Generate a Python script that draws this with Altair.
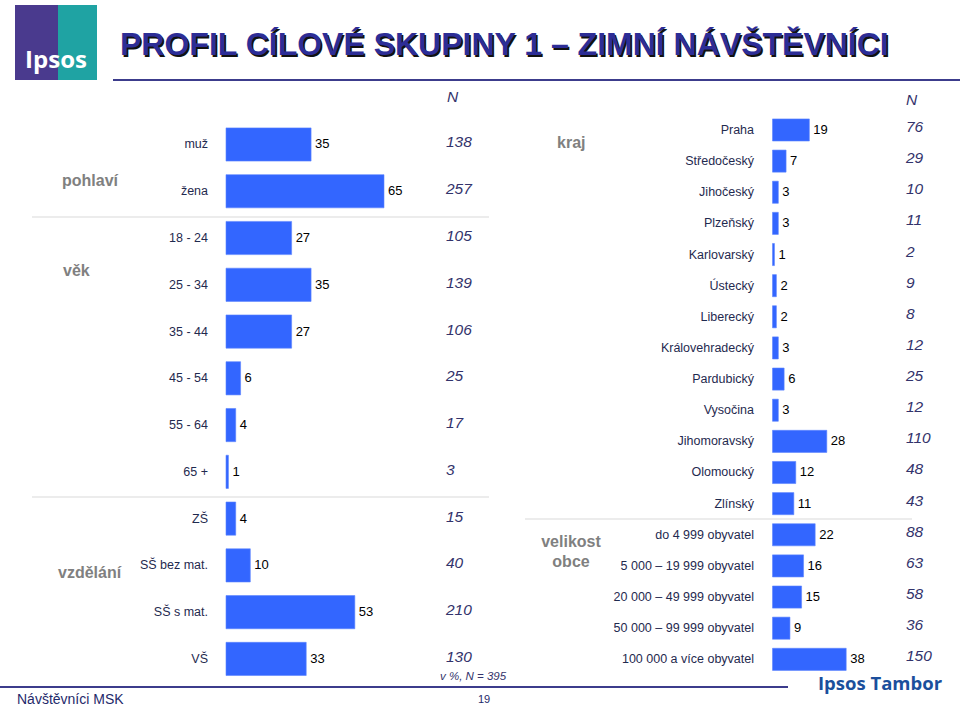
import altair as alt
import pandas as pd

# ---------------- data ----------------
left_cats = ["muž", "žena", "18 - 24", "25 - 34", "35 - 44", "45 - 54", "55 - 64",
             "65 +", "ZŠ", "SŠ bez mat.", "SŠ s mat.", "VŠ"]
left_vals = [35, 65, 27, 35, 27, 6, 4, 1, 4, 10, 53, 33]
left_n = [138, 257, 105, 139, 106, 25, 17, 3, 15, 40, 210, 130]

right_cats = ["Praha", "Středočeský", "Jihočeský", "Plzeňský", "Karlovarský", "Ústecký",
              "Liberecký", "Královehradecký", "Pardubický", "Vysočina", "Jihomoravský",
              "Olomoucký", "Zlínský", "do 4 999 obyvatel", "5 000 – 19 999 obyvatel",
              "20 000 – 49 999 obyvatel", "50 000 – 99 999 obyvatel", "100 000 a více obyvatel"]
right_vals = [19, 7, 3, 3, 1, 2, 2, 3, 6, 3, 28, 12, 11, 22, 16, 15, 9, 38]
right_n = [76, 29, 10, 11, 2, 9, 8, 12, 25, 12, 110, 48, 43, 88, 63, 58, 36, 150]

# ---------------- style ----------------
FONT = "Liberation Sans"
BAR = "#3366FF"
LABEL = "#1F2A4F"
NCOL = "#33336B"
GROUP = "#808080"
NAVY = "#2D2D96"
LINE = "#3C3C8C"
SEP = "#D9D9D9"

one = pd.DataFrame({"k": [0]})


def txt(s, x, y, **kw):
    return alt.Chart(one).mark_text(text=s, font=kw.pop("font", FONT), **kw).encode(
        x=alt.value(x), y=alt.value(y))


def rule(x1, x2, y, color, w):
    return alt.Chart(one).mark_rule(color=color, strokeWidth=w).encode(
        x=alt.value(x1), x2=alt.value(x2), y=alt.value(y))


def rect(x1, x2, y1, y2, color):
    return alt.Chart(one).mark_rect(color=color).encode(
        x=alt.value(x1), x2=alt.value(x2), y=alt.value(y1), y2=alt.value(y2))


def panel(cats, vals, ns, xdom, xrange, yrange, label_x, n_x, n_dy):
    df = pd.DataFrame({"cat": cats, "val": vals, "n": ns})
    xs = alt.Scale(domain=xdom, range=xrange)
    ys = alt.Scale(domain=cats, range=yrange, paddingInner=0.29, paddingOuter=0.145)
    base = alt.Chart(df)
    y = alt.Y("cat:N", scale=ys, axis=None, sort=None)
    bars = base.mark_bar(color=BAR, stroke="#5C85FF", strokeWidth=0.6).encode(
        x=alt.X("val:Q", scale=xs, axis=None), y=y)
    cat = base.mark_text(align="right", baseline="middle", font=FONT, fontSize=12.5,
                         color=LABEL).encode(x=alt.value(label_x), y=y, text="cat:N")
    val = base.mark_text(align="left", baseline="middle", dx=4, font=FONT, fontSize=13,
                         color="#000000").encode(
        x=alt.X("val:Q", scale=xs, axis=None), y=y, text="val:Q")
    n = base.mark_text(align="left", baseline="middle", dy=n_dy, font=FONT, fontSize=15.5,
                       fontStyle="italic", color=NCOL).encode(
        x=alt.value(n_x), y=y, text="n:Q")
    return alt.layer(bars, cat, val, n)


left = panel(left_cats, left_vals, left_n, [0, 65], [226, 384], [121.1, 682.3], 208, 446, -2)
right = panel(right_cats, right_vals, right_n, [0, 38], [772.5, 846.2], [114.4, 674.9], 754, 906, -3)

decor = [
    # logo
    rect(15, 58, 5, 80, "#4A3A8E"),
    rect(58, 97, 5, 80, "#1FA3A3"),
    txt("Ipsos", 56, 61, fontSize=24, fontWeight="bold", color="#FFFFFF",
        align="center", baseline="middle", font="Open Sans"),
    # title with shadow
    txt("PROFIL CÍLOVÉ SKUPINY 1 – ZIMNÍ NÁVŠTĚVNÍCI", 121.5, 56.5, fontSize=32,
        fontWeight="bold", color="#111111", align="left", baseline="alphabetic"),
    txt("PROFIL CÍLOVÉ SKUPINY 1 – ZIMNÍ NÁVŠTĚVNÍCI", 120, 55, fontSize=32,
        fontWeight="bold", color=NAVY, align="left", baseline="alphabetic"),
    rule(113, 960, 80, LINE, 2),
    # N headers
    txt("N", 447, 97, fontSize=15.5, fontStyle="italic", color=NCOL, align="left", baseline="middle"),
    txt("N", 906, 100, fontSize=15.5, fontStyle="italic", color=NCOL, align="left", baseline="middle"),
    # separators
    rule(32, 489, 217, SEP, 1),
    rule(32, 489, 497, SEP, 1),
    rule(525, 912, 519, SEP, 1),
    # group labels
    txt("pohlaví", 62, 181, fontSize=16, fontWeight="bold", color=GROUP, align="left", baseline="middle"),
    txt("věk", 63, 271, fontSize=16, fontWeight="bold", color=GROUP, align="left", baseline="middle"),
    txt("vzdělání", 58, 573, fontSize=16, fontWeight="bold", color=GROUP, align="left", baseline="middle"),
    txt("kraj", 557, 143, fontSize=16, fontWeight="bold", color=GROUP, align="left", baseline="middle"),
    txt("velikost", 571, 542, fontSize=16, fontWeight="bold", color=GROUP, align="center", baseline="middle"),
    txt("obce", 571, 562, fontSize=16, fontWeight="bold", color=GROUP, align="center", baseline="middle"),
    # footer
    txt("v %, N = 395", 440, 677, fontSize=11.5, fontStyle="italic", color=NCOL, align="left", baseline="middle"),
    rule(0, 788, 687, LINE, 2),
    txt("Návštěvníci MSK", 17, 700, fontSize=14, color="#1F2A6B", align="left", baseline="middle"),
    txt("19", 478, 700, fontSize=11, color="#1F2A6B", align="left", baseline="middle"),
    txt("Ipsos Tambor", 818, 684, fontSize=18.5, fontWeight="bold", color="#1B4F9C",
        align="left", baseline="middle", font="Open Sans"),
]

chart = alt.layer(*decor, left, right).resolve_scale(
    x="independent", y="independent"
).properties(
    width=960, height=707, padding=0,
    autosize=alt.AutoSizeParams(type="none"),
    background="#FFFFFF",
).configure_view(stroke=None)

chart.save("out.html", embed_options={"renderer": "svg", "actions": False})
